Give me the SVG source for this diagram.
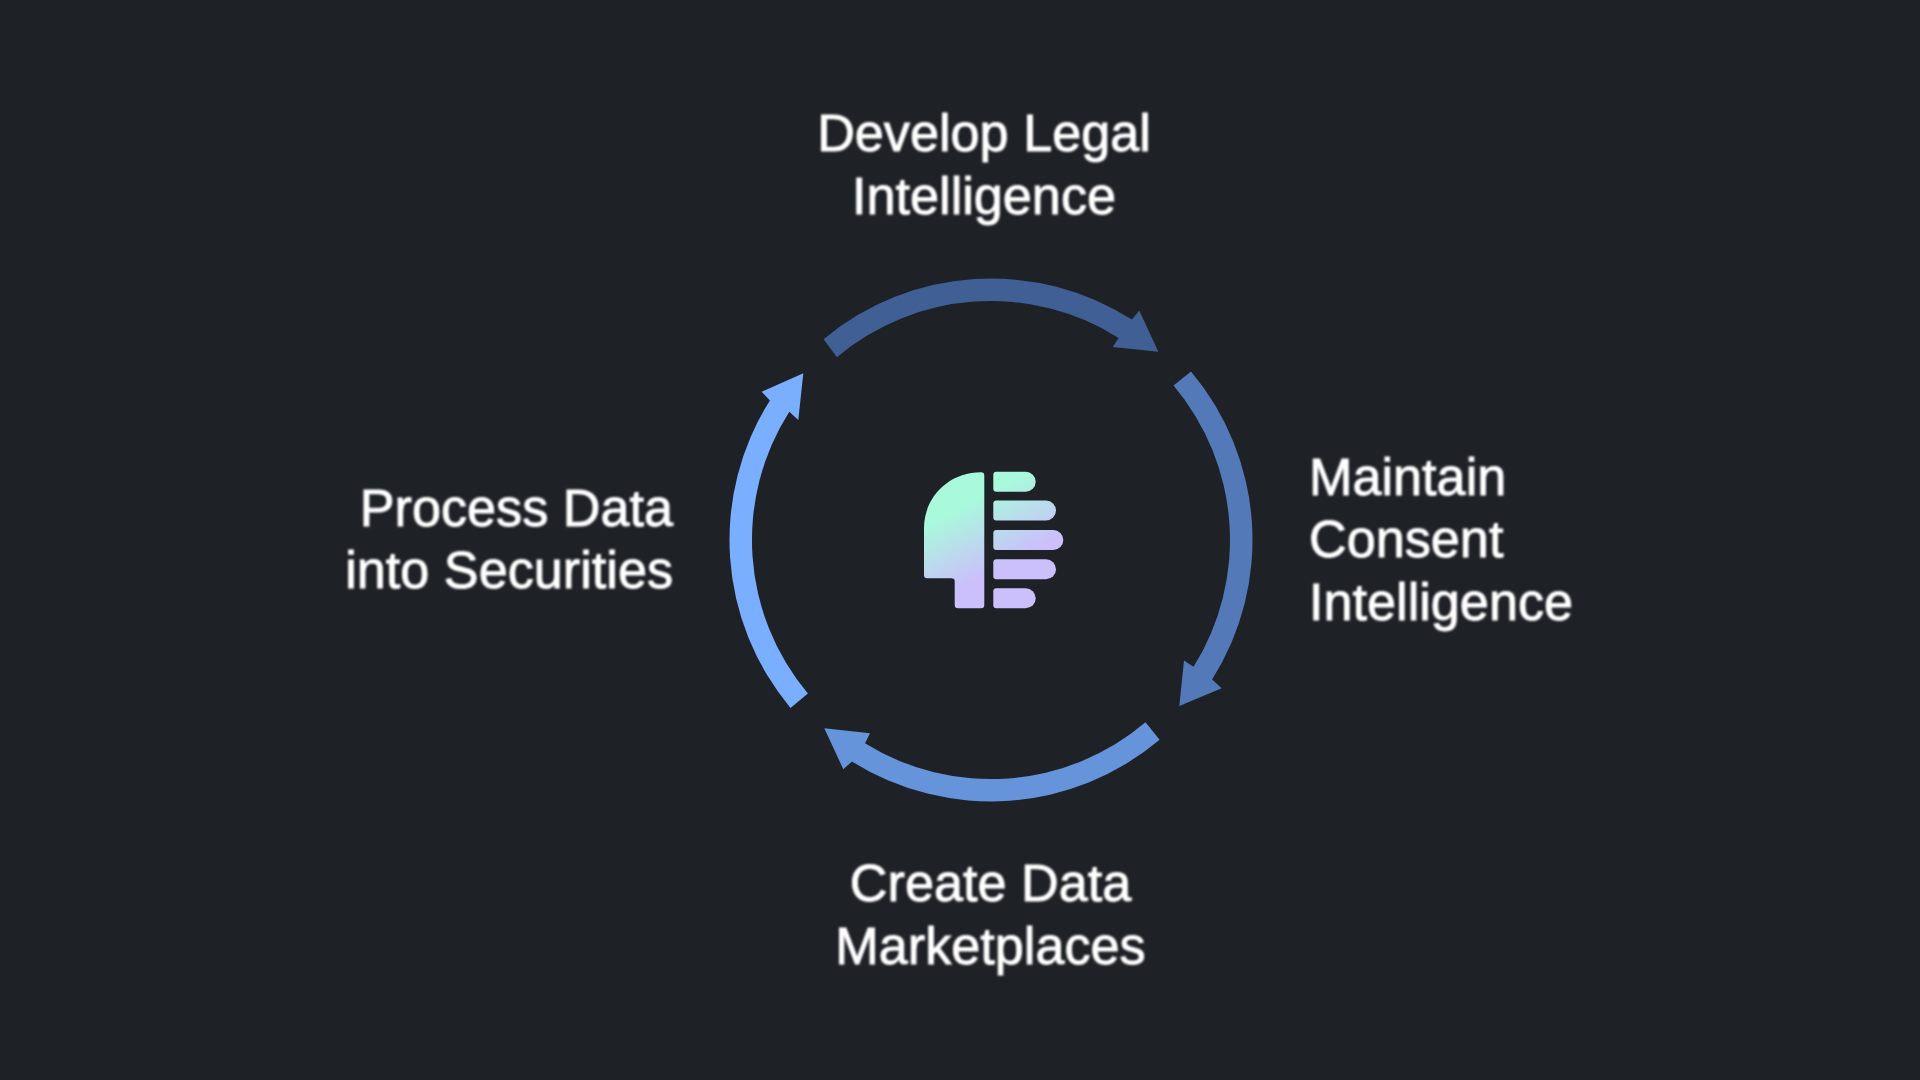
<svg xmlns="http://www.w3.org/2000/svg" width="1920" height="1080" viewBox="0 0 1920 1080">
<style>
.t{font-family:"Liberation Sans",Arial,sans-serif;font-size:52.200px;fill:#fff;stroke:#fff;stroke-width:.9px}
.m{text-anchor:middle}.e{text-anchor:end}
.g{fill:url(#lg)}
</style>
<defs>
<linearGradient id="lg" gradientUnits="userSpaceOnUse" x1="987" y1="494" x2="1020" y2="557"><stop offset="0" stop-color="#a9f9dc"/><stop offset="1" stop-color="#cbbffc"/></linearGradient>
<filter id="soft" x="-5%" y="-5%" width="110%" height="110%"><feGaussianBlur stdDeviation="0.8"/></filter>
<filter id="softer" x="-5%" y="-5%" width="110%" height="110%"><feGaussianBlur stdDeviation="0.5"/></filter>
</defs>
<rect width="1920" height="1080" fill="#1e2126"/>
<g id="connectors" filter="url(#softer)">
<path fill="#3f5e94" d="M823.600 339.200A261.500 261.500 0 0 1 1131.900 319.600L1139.300 310.500L1158.300 351.700L1112.700 347L1118.600 337.900A239 239 0 0 0 836.900 357.300Z"/>
<path fill="#5279b8" d="M1191 371.500A261.500 261.500 0 0 1 1212.100 679.600L1221.700 688.300L1179.300 706L1184 660.500L1193.500 666.800A239 239 0 0 0 1173.500 385.600Z"/>
<path fill="#6594da" d="M1159.600 739.800A261.500 261.500 0 0 1 851.900 761.400L843.300 769.300L824.300 728.300L870 733.300L865 743.300A239 239 0 0 0 1145.500 722.300Z"/>
<path fill="#7aaeff" d="M790.500 707.900A261.500 261.500 0 0 1 769.900 400.400L761.700 391.700L803.300 373.300L798.300 420L789.300 411.700A239 239 0 0 0 807.900 693.600Z"/>
</g>
<g id="logo" filter="url(#softer)">
<path class="g" d="M981 472.300Q984.300 472.300 984.300 475.500V605Q984.300 608.300 981 608.300H958Q954.700 608.300 954.700 605V581Q954.700 578.300 951 578.300H927Q924 578.300 924 575V528C924 498 948 472.300 981 472.300Z"/>
<path class="g" d="M996.300 471.700H1025.700A10 10 0 0 1 1025.700 491.700H996.300Q993.300 491.700 993.300 488.700V474.700Q993.300 471.700 996.300 471.700Z"/>
<path class="g" d="M996.300 500.500H1046A10 10 0 0 1 1046 520.500H996.300Q993.300 520.500 993.300 517.500V503.500Q993.300 500.500 996.300 500.500Z"/>
<path class="g" d="M996.300 530H1053.300A10 10 0 0 1 1053.300 550H996.300Q993.300 550 993.300 547V533Q993.300 530 996.300 530Z"/>
<path class="g" d="M996.300 559.200H1046A10 10 0 0 1 1046 579.200H996.300Q993.300 579.200 993.300 576.200V562.200Q993.300 559.200 996.300 559.200Z"/>
<path class="g" d="M996.300 588.300H1025.700A10 10 0 0 1 1025.700 608.300H996.300Q993.300 608.300 993.300 605.300V591.300Q993.300 588.300 996.300 588.300Z"/>
</g>
<g id="node-top" filter="url(#soft)"><text class="t m" x="984" y="151">Develop Legal</text><text class="t m" x="984" y="213.500">Intelligence</text></g>
<g id="node-right" filter="url(#soft)"><text class="t" x="1309" y="495">Maintain</text><text class="t" x="1309" y="557">Consent</text><text class="t" x="1309" y="619.500">Intelligence</text></g>
<g id="node-bottom" filter="url(#soft)"><text class="t m" x="990.500" y="901">Create Data</text><text class="t m" x="990.500" y="963.500">Marketplaces</text></g>
<g id="node-left" filter="url(#soft)"><text class="t e" x="673" y="526">Process Data</text><text class="t e" x="673" y="588">into Securities</text></g>
</svg>
